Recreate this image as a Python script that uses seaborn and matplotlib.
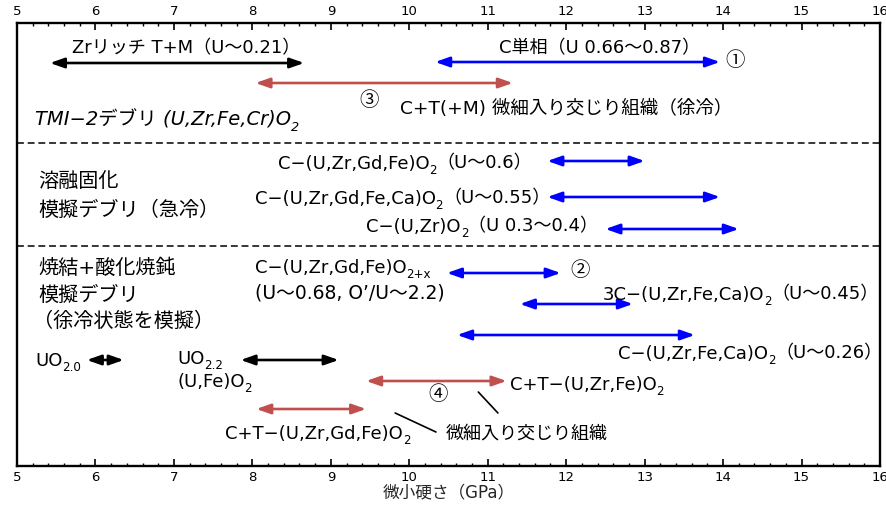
import re
import matplotlib
matplotlib.use("Agg")
import matplotlib.pyplot as plt
import seaborn as sns
from matplotlib.ticker import MultipleLocator
from matplotlib.transforms import offset_copy

sns.set_theme(style="white")
plt.rcParams['font.family'] = ['DejaVu Sans', 'Noto Sans CJK JP']

# ---- data: hardness ranges (GPa) ----
arrow_start = [5.42, 10.33, 8.04, 11.76, 11.76, 12.50, 10.48, 11.41, 10.61, 5.89, 7.85, 9.45, 8.05]
arrow_end   = [8.66, 13.96, 11.32, 13.00, 13.96, 14.20, 11.93, 12.85, 13.64, 6.36, 9.10, 11.24, 9.45]
arrow_row   = [40, 39, 60, 138, 174, 206, 250, 281, 312, 337, 337, 358, 386]
arrow_color = ['black', 'blue', 'red', 'blue', 'blue', 'blue', 'blue', 'blue', 'blue',
               'black', 'black', 'red', 'red']
palette = {'black': '#000000', 'blue': '#0000FF', 'red': '#C0504D'}

separator_rows = [120, 223]

# (text with _{subscript}, x, row, ha, style, size)
labels = [
    ("Zrリッチ T+M（U～0.21）", 7.16, 24, 'center', 'normal', 13),
    ("C単相（U 0.66～0.87）", 12.42, 24, 'center', 'normal', 13),
    ("C+T(+M) 微細入り交じり組織（徐冷）", 9.88, 84, 'left', 'normal', 13.3),
    ("TMI−2デブリ (U,Zr,Fe,Cr)O_{2}", 5.23, 95, 'left', 'italic', 14),
    ("溶融固化", 5.27, 157, 'left', 'italic', 14.5),
    ("模擬デブリ（急冷）", 5.27, 185, 'left', 'italic', 14.5),
    ("C−(U,Zr,Gd,Fe)O_{2}（U～0.6）", 11.57, 139, 'right', 'normal', 13),
    ("C−(U,Zr,Gd,Fe,Ca)O_{2}（U～0.55）", 11.80, 174, 'right', 'normal', 13),
    ("C−(U,Zr)O_{2}（U 0.3～0.4）", 12.41, 202, 'right', 'normal', 13),
    ("焼結+酸化焼鈍", 5.27, 243, 'left', 'italic', 14.5),
    ("模擬デブリ", 5.27, 270, 'left', 'italic', 14.5),
    ("（徐冷状態を模擬）", 5.20, 296, 'left', 'italic', 14.5),
    ("C−(U,Zr,Gd,Fe)O_{2+x}", 8.03, 243, 'left', 'normal', 13),
    ("(U～0.68, O’/U～2.2)", 8.03, 269, 'left', 'normal', 13.5),
    ("3C−(U,Zr,Fe,Ca)O_{2}（U～0.45）", 12.46, 270, 'left', 'normal', 13),
    ("C−(U,Zr,Fe,Ca)O_{2}（U～0.26）", 12.66, 329, 'left', 'normal', 13),
    ("UO_{2.0}", 5.23, 336, 'left', 'normal', 13),
    ("UO_{2.2}", 7.04, 334, 'left', 'normal', 13),
    ("(U,Fe)O_{2}", 7.04, 357, 'left', 'normal', 13),
    ("C+T−(U,Zr,Fe)O_{2}", 11.28, 360, 'left', 'normal', 13),
    ("C+T−(U,Zr,Gd,Fe)O_{2}", 7.65, 409, 'left', 'normal', 13),
    ("微細入り交じり組織", 10.46, 409, 'left', 'normal', 13),
]

# circled numbers
marks = ["①", "②", "③", "④"]
mark_x = [14.15, 12.18, 9.49, 10.37]
mark_row = [37, 247, 77, 372]

leader_x = [[10.88, 11.13], [9.82, 10.34]]
leader_y = [[369, 390], [390, 409]]

xticks = [5, 6, 7, 8, 9, 10, 11, 12, 13, 14, 15, 16]

fig = plt.figure(figsize=(8.86, 5.05), dpi=100)
ax = fig.add_axes([17/886, 1-466/505, (880-17)/886, (466-23)/505])
ax.set_xlim(5, 16)
ax.set_ylim(443, 0)
renderer = fig.canvas.get_renderer()
px = fig.dpi / 72.0


def draw_label(text, x, y, ha, style, fs):
    parts = re.split(r'_\{([^}]*)\}', text)
    segs = [(p, i % 2 == 1) for i, p in enumerate(parts) if p]
    sub_fs = fs * 0.66
    widths = []
    for s, sub in segs:
        t = ax.text(0, 0, s, fontsize=sub_fs if sub else fs, style=style)
        widths.append(t.get_window_extent(renderer).width)
        t.remove()
    total = sum(widths)
    off = {'left': 0.0, 'right': -total, 'center': -total / 2}[ha]
    base_dy = -0.37 * fs * px
    for (s, sub), w in zip(segs, widths):
        dy = base_dy - (0.30 * fs * px if sub else 0)
        tr = offset_copy(ax.transData, fig=fig, x=off, y=dy, units='dots')
        ax.text(x, y, s, transform=tr, ha='left', va='baseline',
                fontsize=sub_fs if sub else fs, style=style, color='black')
        off += w


for x0, x1, yv, c in zip(arrow_start, arrow_end, arrow_row, arrow_color):
    ax.annotate("", xy=(x1, yv), xytext=(x0, yv),
                arrowprops=dict(arrowstyle="<|-|>,head_length=0.85,head_width=0.3",
                                color=palette[c], lw=1.9, shrinkA=0, shrinkB=0,
                                mutation_scale=10))

for yv in separator_rows:
    ax.axhline(yv, color='black', lw=1.1, ls=(0, (4.5, 2.5)))

for txt, xv, yv, ha, st, fs in labels:
    draw_label(txt, xv, yv, ha, st, fs)

for m, xv, yv in zip(marks, mark_x, mark_row):
    ax.text(xv, yv, m, ha='center', va='center', fontsize=14,
            family=['Noto Sans CJK JP', 'DejaVu Sans'], color='black')

for lx, ly in zip(leader_x, leader_y):
    ax.plot(lx, ly, color='black', lw=1.2)

ax.set_xticks(xticks)
ax.set_xticklabels([str(t) for t in xticks])
ax.xaxis.set_minor_locator(MultipleLocator(0.2))
ax.set_yticks([])
ax.tick_params(axis='x', which='both', direction='in', top=True, bottom=True,
               labeltop=True, labelbottom=True, labelsize=9.5, colors='black', pad=3.5)
ax.tick_params(axis='x', which='major', length=5, width=1.2)
ax.tick_params(axis='x', which='minor', length=2.5, width=1.0)
for sp in ax.spines.values():
    sp.set_visible(True)
    sp.set_color('black')
    sp.set_linewidth(1.7)
ax.set_xlabel("微小硬さ（GPa）", fontsize=12, labelpad=0)
ax.set_facecolor('white')
fig.patch.set_facecolor('white')

fig.savefig("out.png", dpi=100)
